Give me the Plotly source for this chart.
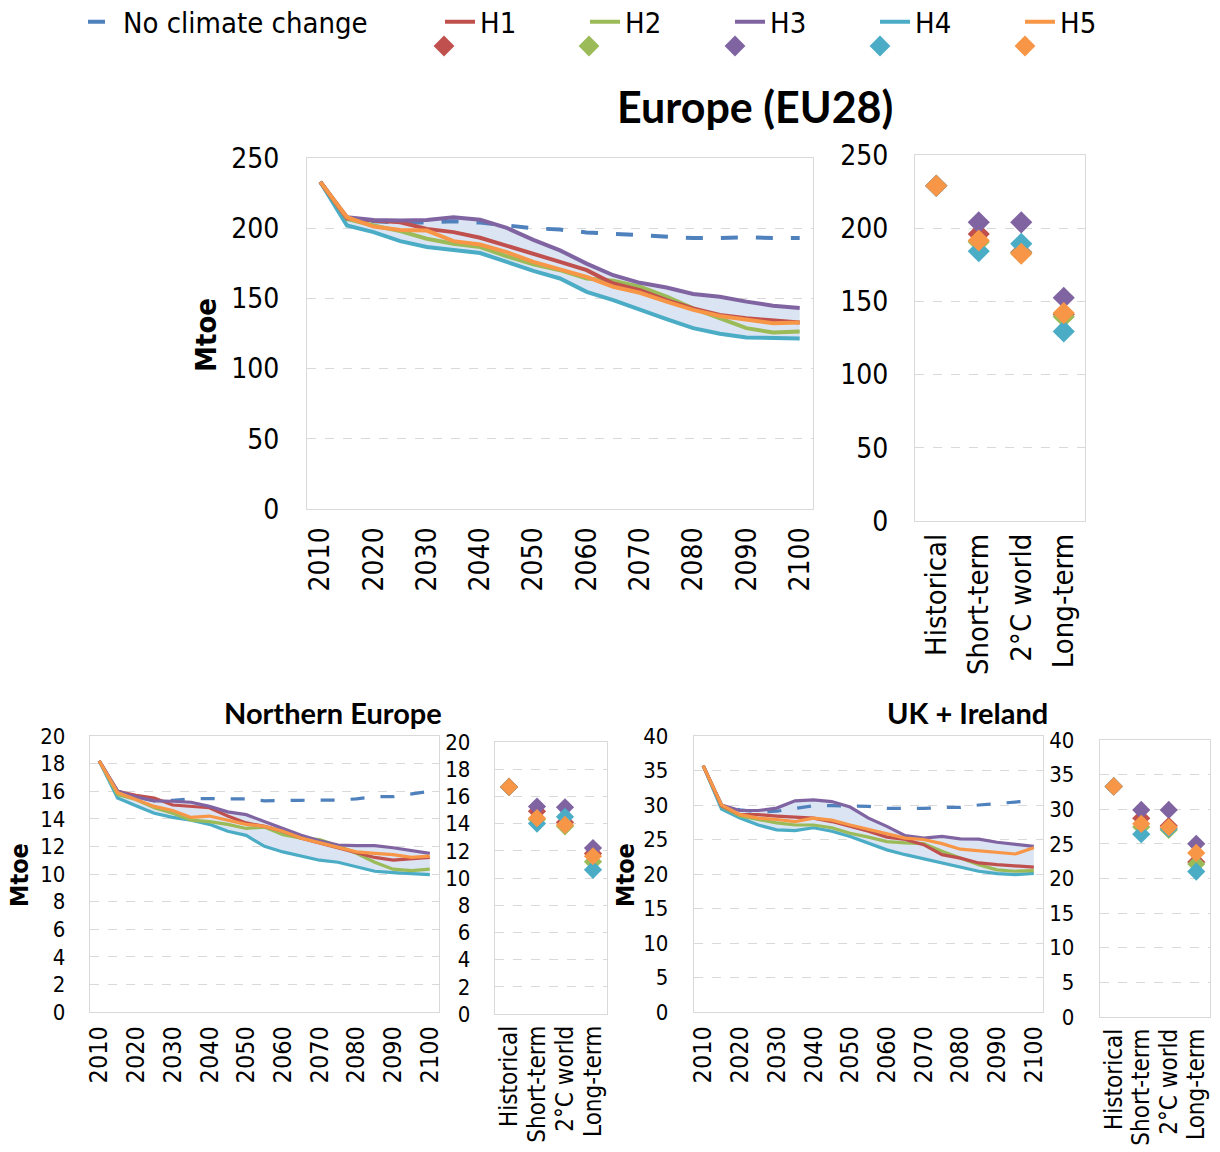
import plotly.graph_objects as go
import numpy as np

W, H = 1220, 1152

years = [2010, 2015, 2020, 2025, 2030, 2035, 2040, 2045, 2050, 2055,
         2060, 2065, 2070, 2075, 2080, 2085, 2090, 2095, 2100]
year_ticks = [2010, 2020, 2030, 2040, 2050, 2060, 2070, 2080, 2090, 2100]
categories = ["Historical", "Short-term", "2°C world", "Long-term"]
series_names = ["H1", "H2", "H3", "H4", "H5"]

# ---- Europe (EU28) ----
ncc_eu = [233, 207, 205, 204, 204, 205, 204, 202, 200, 199, 197, 196, 195, 194, 193, 193, 193.5, 193, 193]
h1_eu = [233, 207, 205.4, 204.2, 199.5, 197.2, 193.2, 187.7, 181.8, 176, 170.1, 160.6, 155.9, 148.8, 142.9, 138.2, 135.9, 134.2, 132.8]
h2_eu = [233, 206.6, 201.9, 197.9, 192.5, 188.9, 186.6, 180, 174.3, 170.1, 164.2, 162.5, 158.3, 151.2, 142.9, 135.9, 128.8, 125.7, 126.4]
h3_eu = [233, 207.8, 205.9, 205.4, 205.9, 207.8, 206, 200.2, 191.7, 184.2, 174.8, 166.5, 161.1, 157.8, 153.1, 151.2, 147.7, 144.8, 143.2]
h4_eu = [233, 201.9, 197.2, 190.8, 186.6, 184.2, 182.3, 176, 169.6, 164.2, 154.7, 148.8, 141.8, 135.2, 128.8, 124.8, 122.2, 121.5, 121.5]
h5_eu = [233, 207.8, 201.2, 198.8, 198.3, 190.8, 188.4, 183, 176, 170.5, 165.3, 158.3, 154, 147.7, 141.8, 137.5, 134.7, 132.3, 132.8]
pts_eu_h1 = [229, 196, 183.5, 141]
pts_eu_h2 = [229, 190.5, 183, 139.5]
pts_eu_h3 = [229, 204, 204, 152.5]
pts_eu_h4 = [229, 184.3, 189.3, 129.5]
pts_eu_h5 = [229, 191.6, 182.5, 142]

# ---- Northern Europe ----
ncc_ne = [18.2, 16.0, 15.6, 15.3, 15.34, 15.46, 15.46, 15.44, 15.44, 15.3, 15.34, 15.34, 15.36, 15.36, 15.44, 15.6, 15.6, 15.8, 16.0]
h1_ne = [18.2, 16.0, 15.7, 15.5, 15.0, 14.9, 14.8, 14.2, 13.7, 13.45, 13.1, 12.6, 12.25, 11.9, 11.6, 11.2, 11.0, 11.1, 11.2]
h2_ne = [18.2, 15.75, 15.4, 14.8, 14.4, 13.9, 13.8, 13.6, 13.3, 13.4, 12.85, 12.6, 12.5, 12.05, 11.5, 10.85, 10.35, 10.25, 10.35]
h3_ne = [18.2, 16.0, 15.6, 15.3, 15.27, 15.2, 14.9, 14.5, 14.3, 13.8, 13.3, 12.8, 12.4, 12.1, 12.05, 12.05, 11.9, 11.7, 11.5]
h4_ne = [18.2, 15.5, 14.95, 14.4, 14.1, 13.9, 13.6, 13.1, 12.8, 12.0, 11.6, 11.3, 11.0, 10.85, 10.5, 10.2, 10.1, 10.0, 9.95]
h5_ne = [18.2, 15.9, 15.4, 14.9, 14.6, 14.1, 14.2, 13.9, 13.6, 13.45, 13.1, 12.6, 12.25, 11.9, 11.6, 11.5, 11.4, 11.2, 11.3]
pts_ne_h1 = [16.7, 14.9, 14.1, 11.8]
pts_ne_h2 = [16.7, 14.3, 13.8, 11.2]
pts_ne_h3 = [16.7, 15.25, 15.2, 12.2]
pts_ne_h4 = [16.7, 14.0, 14.5, 10.6]
pts_ne_h5 = [16.7, 14.4, 13.9, 11.6]

# ---- UK + Ireland ----
ncc_uk = [35.7, 30.0, 29.3, 29.0, 29.1, 29.55, 29.9, 29.9, 29.8, 29.8, 29.5, 29.5, 29.5, 29.65, 29.65, 30.0, 30.2, 30.5, 30.65]
h1_uk = [35.7, 29.9, 28.6, 28.6, 28.4, 28.25, 28.1, 27.6, 26.9, 26.2, 25.35, 25.0, 24.25, 22.8, 22.3, 21.6, 21.35, 21.2, 21.0]
h2_uk = [35.7, 29.8, 28.4, 27.9, 27.4, 27.1, 27.1, 26.7, 25.9, 25.35, 24.7, 24.5, 24.4, 23.3, 22.3, 21.35, 20.6, 20.4, 20.5]
h3_uk = [35.7, 30.0, 29.2, 29.2, 29.55, 30.6, 30.75, 30.5, 29.7, 28.1, 26.9, 25.55, 25.2, 25.45, 25.1, 25.05, 24.6, 24.25, 24.0]
h4_uk = [35.7, 29.4, 28.1, 27.1, 26.4, 26.3, 26.7, 26.2, 25.45, 24.5, 23.5, 22.8, 22.2, 21.7, 21.0, 20.4, 20.05, 19.9, 20.1]
h5_uk = [35.7, 30.0, 28.6, 28.1, 27.9, 27.6, 28.1, 27.8, 27.1, 26.5, 25.9, 25.2, 25.0, 24.4, 23.6, 23.4, 23.1, 22.9, 23.8]
pts_uk_h1 = [33.3, 28.7, 27.6, 22.4]
pts_uk_h2 = [33.3, 27.45, 27.0, 22.1]
pts_uk_h3 = [33.3, 29.9, 29.9, 25.0]
pts_uk_h4 = [33.3, 26.4, 27.2, 21.0]
pts_uk_h5 = [33.3, 27.9, 27.4, 23.7]

colors = {"H1": "#c0504d", "H2": "#9bbb59", "H3": "#8064a2", "H4": "#4bacc6", "H5": "#f79646"}
NCC_COLOR = "#4f81bd"
BAND = "#dbe4f2"
GRID = "#d9d9d9"
FONT = "DejaVu Sans Condensed, DejaVu Sans, sans-serif"
TITLE_FONT = "Lato, Open Sans, sans-serif"

regions = [
    dict(ncc=ncc_eu, lines=[h1_eu, h2_eu, h3_eu, h4_eu, h5_eu],
         pts=[pts_eu_h1, pts_eu_h2, pts_eu_h3, pts_eu_h4, pts_eu_h5],
         ymax=250, dtick=50, lw=4, dash="17px,18px", msize=17, yfs=28, xfs=28, cfs=29, main=True,
         lbox=(307, 813, 158, 509), sbox=(915, 1085, 155, 521), xstand=6, ystand=21, sstand=20,
         cstand=0),
    dict(ncc=ncc_ne, lines=[h1_ne, h2_ne, h3_ne, h4_ne, h5_ne],
         pts=[pts_ne_h1, pts_ne_h2, pts_ne_h3, pts_ne_h4, pts_ne_h5],
         ymax=20, dtick=2, lw=3.2, dash="14px,16px", msize=14, yfs=22, xfs=25, cfs=24, main=False,
         lbox=(90, 439, 736, 1012), sbox=(495, 607, 742, 1014), xstand=3, ystand=19, sstand=19,
         cstand=1),
    dict(ncc=ncc_uk, lines=[h1_uk, h2_uk, h3_uk, h4_uk, h5_uk],
         pts=[pts_uk_h1, pts_uk_h2, pts_uk_h3, pts_uk_h4, pts_uk_h5],
         ymax=40, dtick=5, lw=3.2, dash="14px,16px", msize=14, yfs=22, xfs=25, cfs=24, main=False,
         lbox=(694, 1043, 736, 1012), sbox=(1100, 1210, 740, 1017), xstand=3, ystand=20, sstand=20,
         cstand=1),
]


def xdom(x0, x1):
    return [x0 / W, x1 / W]


def ydom(y0, y1):
    return [1 - y1 / H, 1 - y0 / H]


fig = go.Figure()
layout = {}
draw_order = [3, 1, 0, 2, 4]  # H4, H2, H1, H3, H5

# legend placement (paper coords)
line_leg_x = [83, 440, 585, 730, 875, 1020]
diam_leg_x = [424, 569, 715, 860, 1005]

for i, r in enumerate(regions):
    ax_l = 2 * i + 1
    ax_s = 2 * i + 2
    xl = "x" if ax_l == 1 else f"x{ax_l}"
    yl = "y" if ax_l == 1 else f"y{ax_l}"
    xs, ys = f"x{ax_s}", f"y{ax_s}"

    arr = np.array(r["lines"])
    lo, hi = arr.min(axis=0), arr.max(axis=0)
    fig.add_trace(go.Scatter(x=years, y=lo, mode="lines", line=dict(width=0, color=BAND),
                             showlegend=False, hoverinfo="skip", xaxis=xl, yaxis=yl))
    fig.add_trace(go.Scatter(x=years, y=hi, mode="lines", line=dict(width=0, color=BAND),
                             fill="tonexty", fillcolor=BAND, showlegend=False,
                             hoverinfo="skip", xaxis=xl, yaxis=yl))
    fig.add_trace(go.Scatter(x=years, y=r["ncc"], mode="lines", name="No climate change",
                             line=dict(color=NCC_COLOR, width=r["lw"], dash=r["dash"]),
                             showlegend=r["main"], legend="legend", xaxis=xl, yaxis=yl))
    for k in draw_order:
        nm = series_names[k]
        fig.add_trace(go.Scatter(x=years, y=r["lines"][k], mode="lines", name=nm,
                                 line=dict(color=colors[nm], width=r["lw"]),
                                 showlegend=r["main"], legend=f"legend{k + 2}",
                                 xaxis=xl, yaxis=yl))
    for k in range(5):
        nm = series_names[k]
        fig.add_trace(go.Scatter(x=categories, y=r["pts"][k], mode="markers", name=" ",
                                 marker=dict(symbol="diamond", size=r["msize"], color=colors[nm]),
                                 showlegend=r["main"], legend=f"legend{k + 7}",
                                 xaxis=xs, yaxis=ys))

    lx0, lx1, ly0, ly1 = r["lbox"]
    sx0, sx1, sy0, sy1 = r["sbox"]
    xk_l = "xaxis" if ax_l == 1 else f"xaxis{ax_l}"
    yk_l = "yaxis" if ax_l == 1 else f"yaxis{ax_l}"
    yf = dict(family=FONT, size=r["yfs"], color="#000000")
    xf = dict(family=FONT, size=r["xfs"], color="#000000")
    layout[xk_l] = dict(domain=xdom(lx0, lx1), anchor=yl, range=[2007.5, 2102.5],
                        tickmode="array", tickvals=year_ticks, tickangle=-90,
                        showgrid=False, zeroline=False, showline=True, mirror=True,
                        linecolor=GRID, linewidth=1.3, ticks="", tickfont=xf,
                        ticklabelstandoff=r["xstand"], fixedrange=True)
    layout[yk_l] = dict(domain=ydom(ly0, ly1), anchor=xl, range=[0, r["ymax"]], dtick=r["dtick"],
                        showgrid=True, gridcolor=GRID, griddash="dash", gridwidth=1,
                        zeroline=False, showline=True, mirror=True, linecolor=GRID, linewidth=1.3,
                        ticks="", tickfont=yf, ticklabelstandoff=r["ystand"], fixedrange=True)
    layout[f"xaxis{ax_s}"] = dict(domain=xdom(sx0, sx1), anchor=ys, type="category",
                                  range=[-0.5, 3.5], tickmode="array", tickvals=categories,
                                  ticktext=categories, tickangle=-90, showgrid=False,
                                  zeroline=False, showline=True, mirror=True, linecolor=GRID,
                                  linewidth=1.3, ticks="",
                                  tickfont=dict(family=FONT, size=r["cfs"], color="#000000"),
                                  ticklabelstandoff=r["cstand"], fixedrange=True)
    layout[f"yaxis{ax_s}"] = dict(domain=ydom(sy0, sy1), anchor=xs, range=[0, r["ymax"]],
                                  dtick=r["dtick"], showgrid=True, gridcolor=GRID, griddash="dash",
                                  zeroline=False, showline=True, mirror=True, linecolor=GRID,
                                  linewidth=1.3, ticks="", tickfont=yf,
                                  ticklabelstandoff=r["sstand"], fixedrange=True)

leg_font = dict(family=FONT, size=29, color="#000000")
for j, lx in enumerate(line_leg_x):
    key = "legend" if j == 0 else f"legend{j + 1}"
    layout[key] = dict(x=lx / W, y=1 - 22 / H, xanchor="left", yanchor="middle",
                       orientation="h", font=leg_font, bgcolor="rgba(0,0,0,0)",
                       borderwidth=0, itemclick=False, itemdoubleclick=False)
for j, lx in enumerate(diam_leg_x):
    layout[f"legend{j + 7}"] = dict(x=lx / W, y=1 - 46 / H, xanchor="left", yanchor="middle",
                                    orientation="h", font=dict(family=FONT, size=12),
                                    bgcolor="rgba(0,0,0,0)", borderwidth=0,
                                    itemclick=False, itemdoubleclick=False)


def ann(text, x, y, size, family, angle=0):
    return dict(text=text, x=x / W, y=1 - y / H, xref="paper", yref="paper",
                xanchor="center", yanchor="middle", showarrow=False, textangle=angle,
                font=dict(family=family, size=size, color="#000000"))


annotations = [
    ann("<b>Europe (EU28)</b>", 755, 107, 43, TITLE_FONT),
    ann("<b>Northern Europe</b>", 333, 712, 29, TITLE_FONT),
    ann("<b>UK + Ireland</b>", 967, 712, 29, TITLE_FONT),
    ann("<b>Mtoe</b>", 206, 335, 29, FONT, -90),
    ann("<b>Mtoe</b>", 19, 875, 25, FONT, -90),
    ann("<b>Mtoe</b>", 625, 875, 25, FONT, -90),
]

fig.update_layout(width=W, height=H, margin=dict(l=0, r=0, t=0, b=0, autoexpand=False),
                  paper_bgcolor="#ffffff", plot_bgcolor="#ffffff",
                  annotations=annotations, **layout)

fig.write_html("out.html", config={"displayModeBar": False},
               post_script="document.body.style.margin='0';")
